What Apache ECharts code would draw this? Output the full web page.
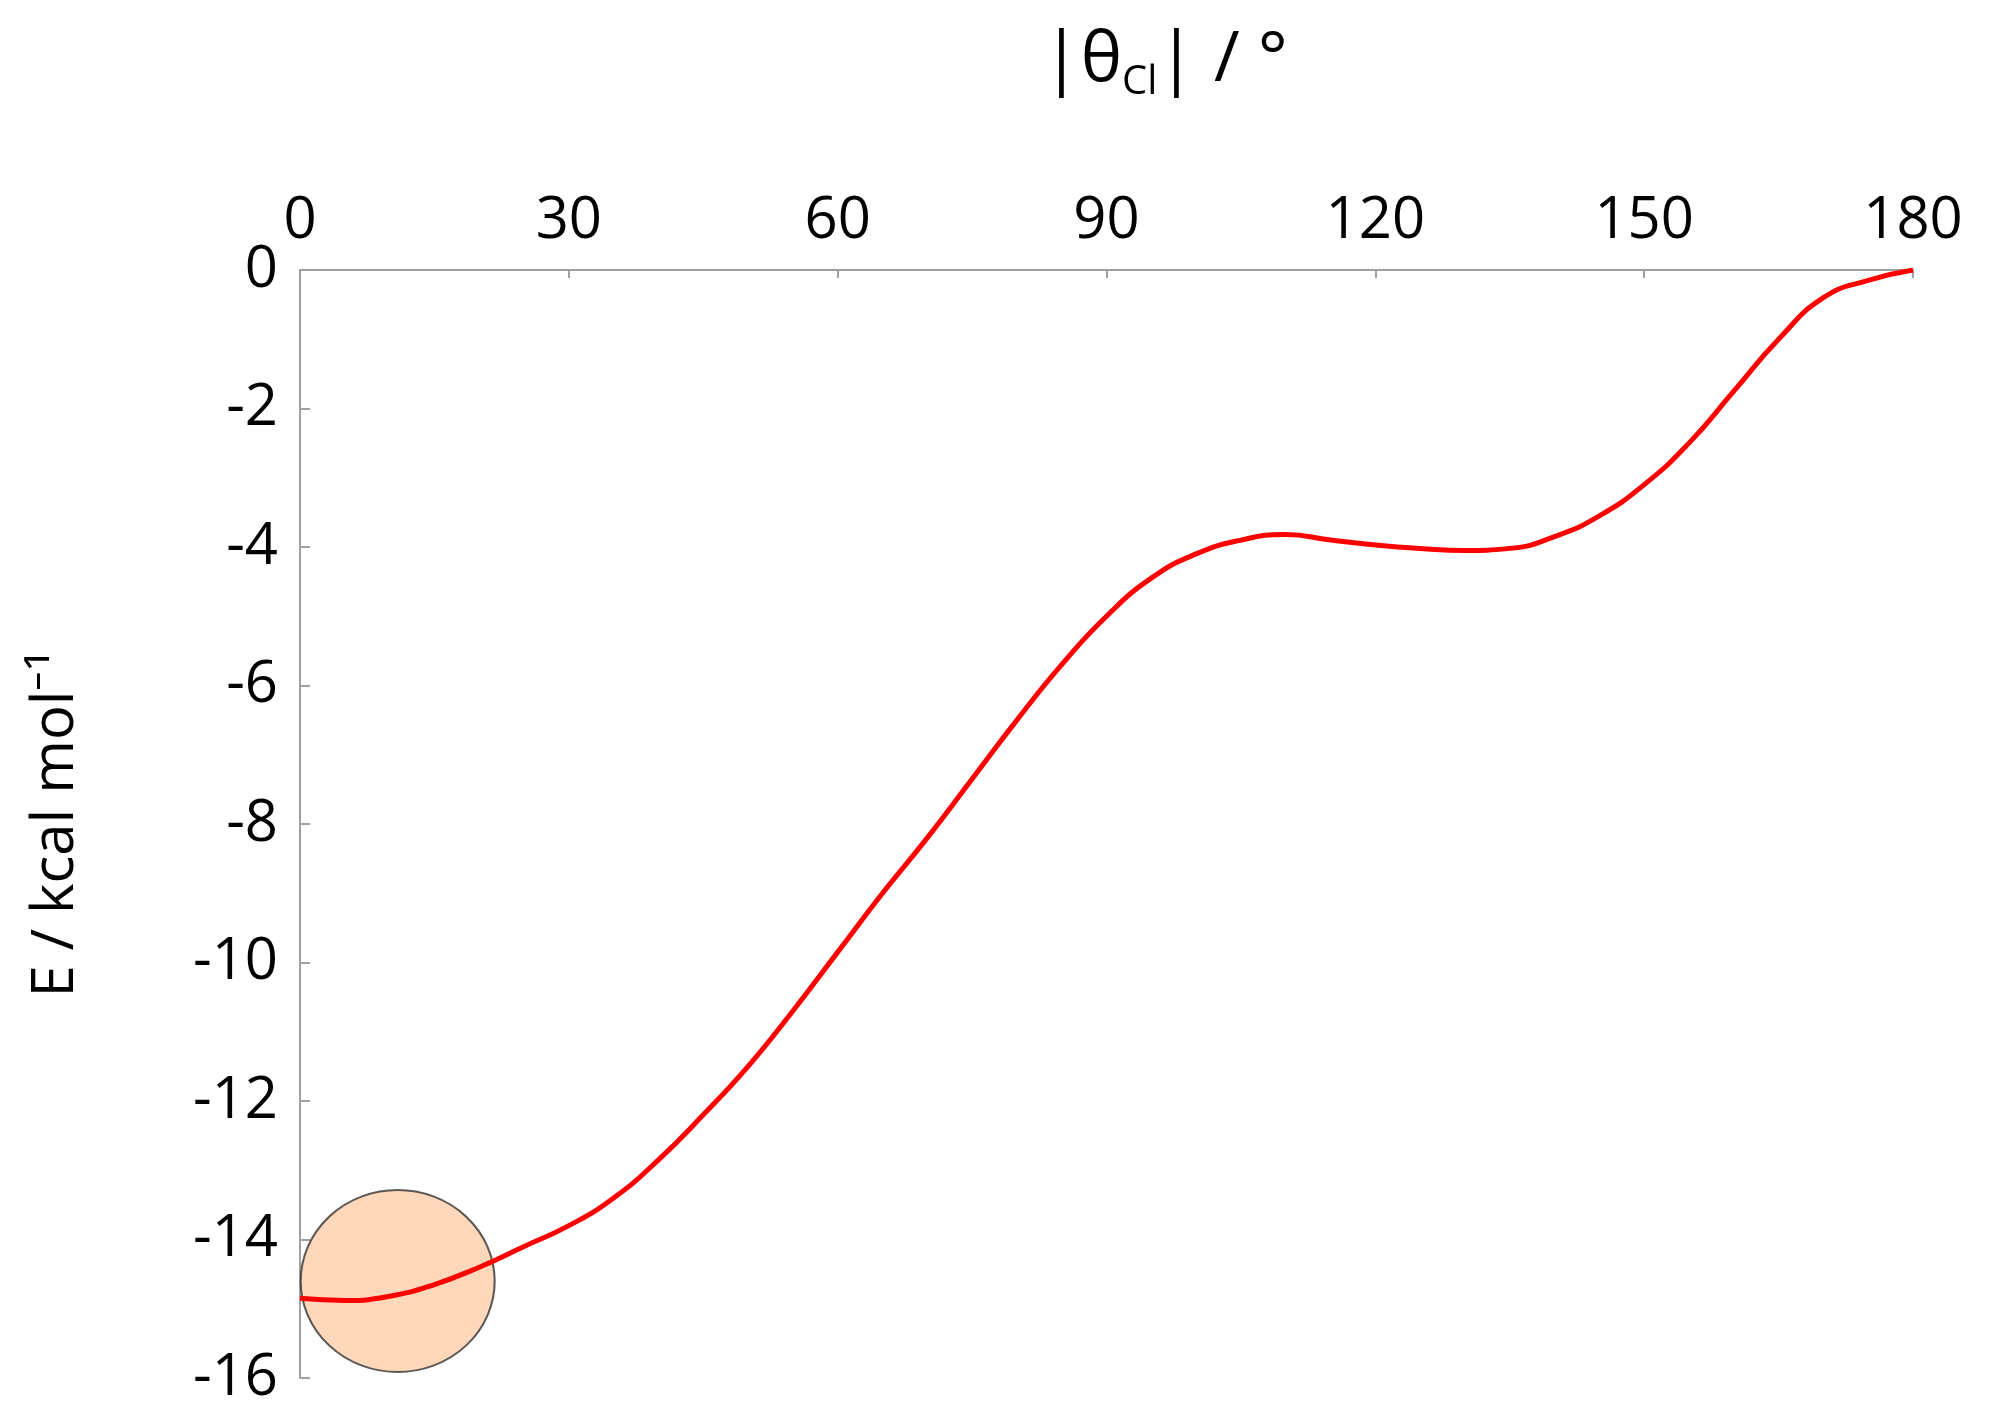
<!DOCTYPE html>
<html><head><meta charset="utf-8">
<script src="https://cdn.jsdelivr.net/npm/echarts@6/dist/echarts.min.js"></script>
<style>html,body{margin:0;background:#fff}#c{width:1990px;height:1422px}</style>
</head><body><div id="c"></div>
<script>
const angles = [0,5,10,15,20,25,30,35,40,45,50,55,60,65,70,75,80,85,90,95,100,105,110,115,120,125,130,135,140,145,150,155,160,165,170,175,180];
const energies = [-14.85,-14.88,-14.82,-14.65,-14.4,-14.1,-13.8,-13.4,-12.85,-12.2,-11.5,-10.7,-9.85,-9.0,-8.2,-7.35,-6.5,-5.7,-5.0,-4.45,-4.1,-3.9,-3.82,-3.9,-3.97,-4.02,-4.05,-4.02,-3.85,-3.55,-3.1,-2.5,-1.75,-1.0,-0.4,-0.15,0];
const minimum = [10.9, -14.6];

const font = "'Open Sans', 'Liberation Sans', sans-serif";
const axisGray = "#a0a0a0";
const chart = echarts.init(document.getElementById("c"));
chart.setOption({
  animation: false,
  grid: { left: 300, right: 77, top: 270, bottom: 44 },
  title: {
    text: "|θ{s|Cl}| / °", left: 1160, top: 14, textAlign: "center",
    textStyle: { fontFamily: font, fontSize: 70, fontWeight: "normal", color: "#000",
      rich: { s: { fontFamily: font, fontSize: 40, verticalAlign: "bottom", padding: [44, 0, 0, 0] } } }
  },
  xAxis: {
    type: "value", position: "top", min: 0, max: 180, interval: 30,
    axisLine: { lineStyle: { color: axisGray, width: 2 } },
    axisTick: { inside: true, length: 8, lineStyle: { color: axisGray, width: 2 } },
    axisLabel: { fontFamily: font, fontSize: 58, color: "#000", margin: 20 },
    splitLine: { show: false }
  },
  yAxis: {
    type: "value", min: -16, max: 0, interval: 2,
    name: "E / kcal mol⁻¹", nameLocation: "middle", nameGap: 215, nameRotate: 90,
    nameTextStyle: { fontFamily: font, fontSize: 58, color: "#000" },
    axisLine: { lineStyle: { color: axisGray, width: 2 } },
    axisTick: { inside: true, length: 10, lineStyle: { color: axisGray, width: 2 } },
    axisLabel: { fontFamily: font, fontSize: 58, color: "#000", margin: 22 },
    splitLine: { show: false }
  },
  series: [
    { type: "scatter", data: [minimum], symbol: "circle", symbolSize: [194, 182], z: 1,
      itemStyle: { color: "#ffcdaa", borderColor: "#333", borderWidth: 2 } },
    { type: "line", data: angles.map((a, i) => [a, energies[i]]), smooth: true, showSymbol: false, z: 3,
      lineStyle: { color: "#ff0000", width: 5 } }
  ]
});
</script></body></html>
